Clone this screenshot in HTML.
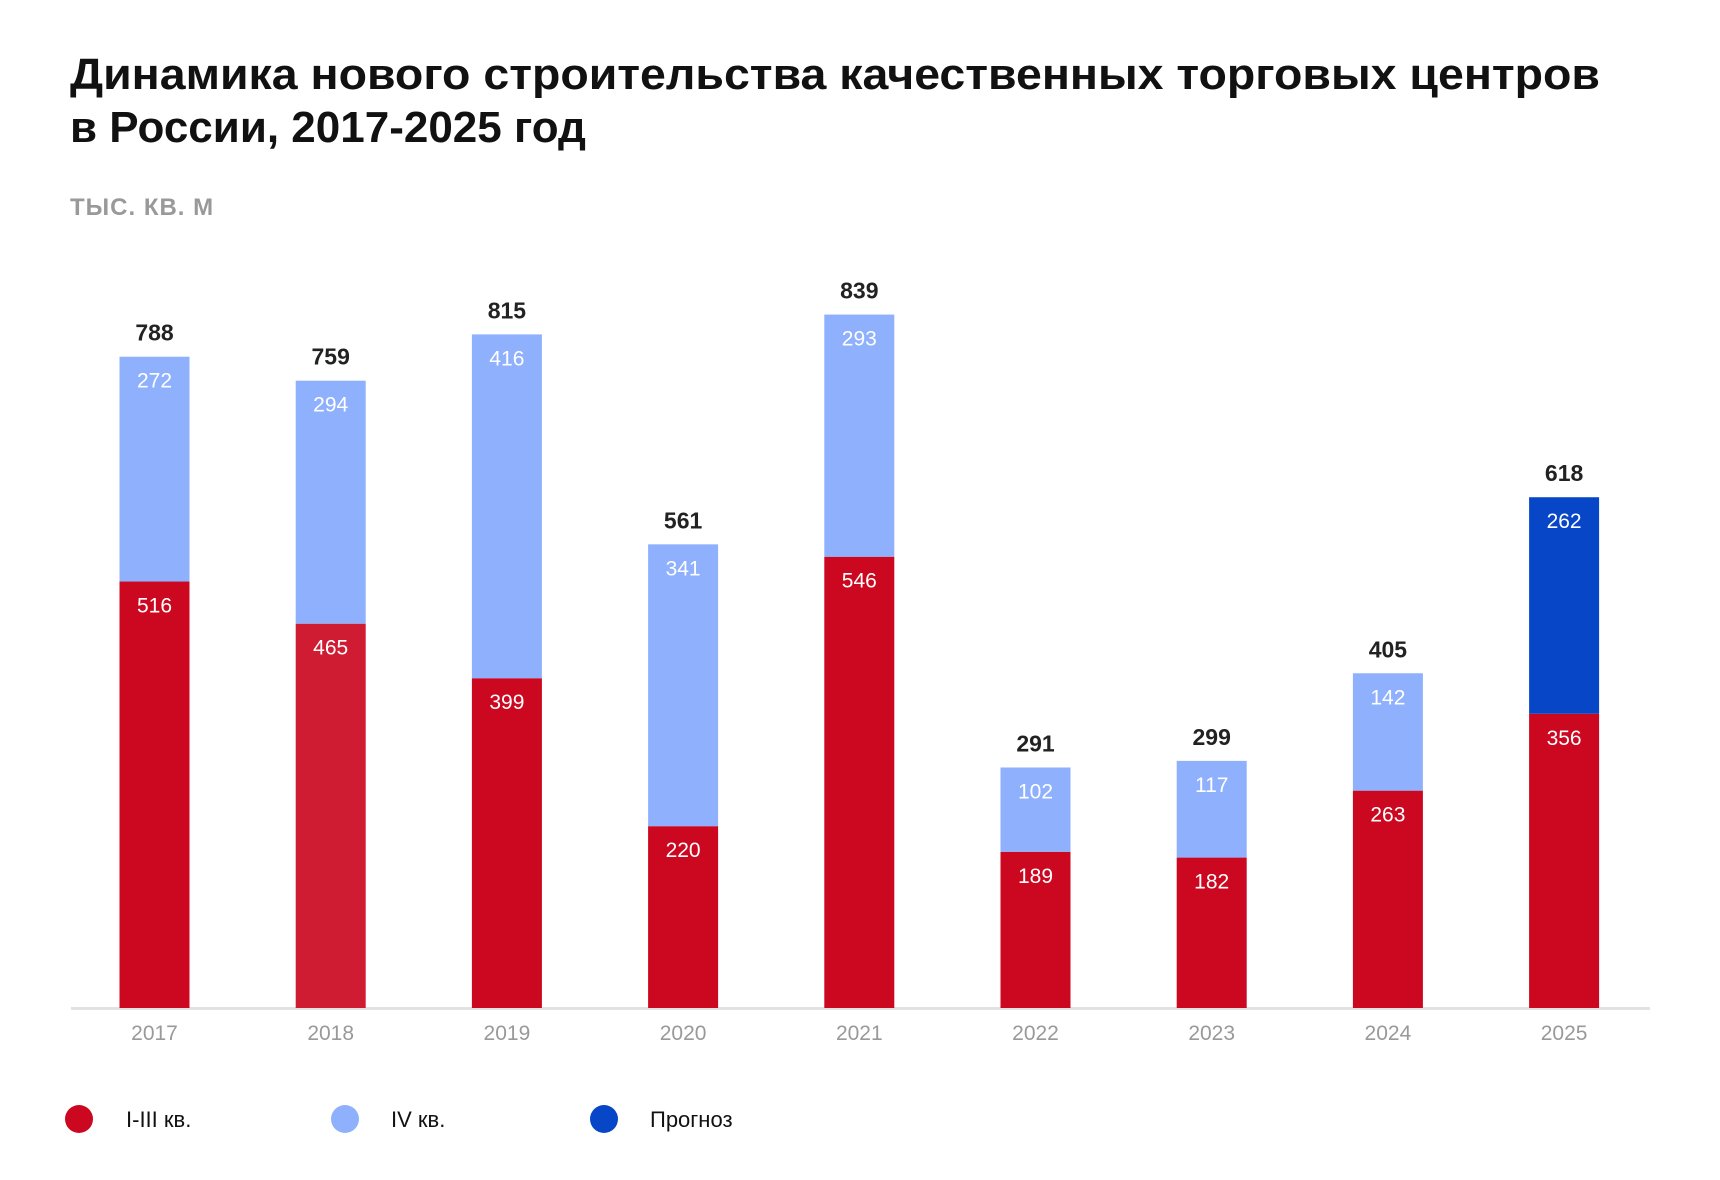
<!DOCTYPE html>
<html><head><meta charset="utf-8"><style>
html,body{margin:0;padding:0;background:#fff;width:1720px;height:1180px;overflow:hidden;font-family:"Liberation Sans",sans-serif;}
</style></head><body>
<svg width="1720" height="1180" viewBox="0 0 1720 1180" xmlns="http://www.w3.org/2000/svg">
<text x="70" y="89" font-size="44" font-weight="bold" fill="#111" textLength="1530" lengthAdjust="spacingAndGlyphs">Динамика нового строительства качественных торговых центров</text>
<text x="70" y="142" font-size="44" font-weight="bold" fill="#111">в России, 2017-2025 год</text>
<text x="70" y="215" font-size="24" font-weight="bold" fill="#999" letter-spacing="1">ТЫС. КВ. М</text>
<line x1="71" y1="1008.5" x2="1650" y2="1008.5" stroke="#e2e2e2" stroke-width="3"/>
<g id="bars"></g>
<g>
<circle cx="79" cy="1119" r="14" fill="#cc0820"/>
<text x="126" y="1127" font-size="22" fill="#111">I-III кв.</text>
<circle cx="345" cy="1119" r="14" fill="#8fb0fd"/>
<text x="391" y="1127" font-size="22" fill="#111">IV кв.</text>
<circle cx="604" cy="1119" r="14" fill="#0846c8"/>
<text x="650" y="1127" font-size="22" fill="#111">Прогноз</text>
</g>
</svg>
<script>
const years = ["2017","2018","2019","2020","2021","2022","2023","2024","2025"];
const q13 = [516,465,399,220,546,189,182,263,356];
const q4 = [272,294,416,341,293,102,117,142,262];
const totals = [788,759,815,561,839,291,299,405,618];
const forecastIndex = 8;
const NS="http://www.w3.org/2000/svg";
const g=document.getElementById('bars');
const base=1008, unit=0.8265, barW=70;
const y=v=>base-v*unit;
const xc=i=>154.5+i*176.2;
function mk(tag,attrs){const e=document.createElementNS(NS,tag);for(const k in attrs)e.setAttribute(k,attrs[k]);g.appendChild(e);return e;}
years.forEach((yr,i)=>{
  const cx=xc(i);
  const r=mk('rect',{x:cx-barW/2,y:y(q13[i]),width:barW,height:q13[i]*unit,fill:i===1?'#d01c32':'#cc0820'});
  
  
  const r2=mk('rect',{x:cx-barW/2,y:y(q13[i]+q4[i]),width:barW,height:q4[i]*unit,fill:i===forecastIndex?'#0846c8':'#8fb0fd'});
  
  
  const t1=mk('text',{x:cx,y:y(q13[i])+31,'text-anchor':'middle','font-size':21,fill:'#fff'});
  t1.textContent=q13[i];
  
  
  const t2=mk('text',{x:cx,y:y(q13[i]+q4[i])+31,'text-anchor':'middle','font-size':21,fill:'#fff'});
  t2.textContent=q4[i];
  
  
  const t3=mk('text',{x:cx,y:y(totals[i])-16,'text-anchor':'middle','font-size':23,'font-weight':'bold',fill:'#222'});
  t3.textContent=totals[i];
  
  
  const t4=mk('text',{x:cx,y:1040,'text-anchor':'middle','font-size':21,fill:'#999'});
  t4.textContent=yr;
  
  
});
</script>
</body></html>
